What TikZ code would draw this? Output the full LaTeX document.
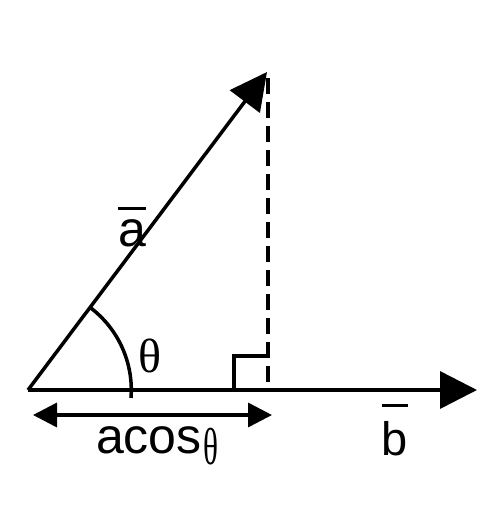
\documentclass[tikz,border=0pt]{standalone}
\usepackage{fontspec}
\setmainfont{Liberation Sans}
\newfontfamily\grk{Liberation Serif}
\usetikzlibrary{arrows.meta}
\newcommand\barred[2]{\leavevmode\vbox{\hrule height 3pt\kern #2\hbox{#1}}}
\begin{document}
\begin{tikzpicture}[x=1pt,y=-1pt,
  ln/.style={line width=3.5pt},
  big/.style={-{Triangle[length=37pt,width=37pt]}},
  lbl/.style={inner sep=0pt,anchor=center}]
\useasboundingbox (0,0) rectangle (496,524);
\fill[white] (0,0) rectangle (496,524);
\coordinate (O) at (28,390);
\coordinate (A) at (267,72);
\coordinate (B) at (477,390);
\coordinate (F) at (268,390);
\coordinate (Ftop) at (268,78);
\coordinate (L) at (33,415);
\coordinate (R) at (272,415);
\draw[ln,big] (O) -- (B);
\draw[ln,big] (O) -- (A);
\draw[ln,dash pattern=on 16pt off 8pt] (Ftop) -- (F);
\draw[ln] (F) ++(0,-34) coordinate (S1) -- ++(-34,0) coordinate (S2) -- ++(0,34);
\draw[ln] (O) ++(4.4:103.3) arc[start angle=4.4,end angle=-53,radius=103.3];
\draw[ln,{Triangle[length=24pt,width=24pt]}-{Triangle[length=24pt,width=24pt]}] (L) -- (R);
\node[lbl,font=\fontsize{48}{56}\selectfont\grk] (th) at (149.5,356) {θ};
\node[lbl,font=\fontsize{50}{60}\selectfont] (ac) at (149,440) {acos};
\node[lbl,font=\fontsize{52}{60}\selectfont\grk] (th2) at (210.5,447) {\scalebox{0.6}[1]{θ}};
\node[lbl,font=\fontsize{50}{60}\selectfont] (va) at (132,227) {\barred{a}{10pt}};
\node[lbl,font=\fontsize{47}{56}\selectfont] (vb) at (395,430) {\barred{b}{15pt}};
\end{tikzpicture}
\end{document}
